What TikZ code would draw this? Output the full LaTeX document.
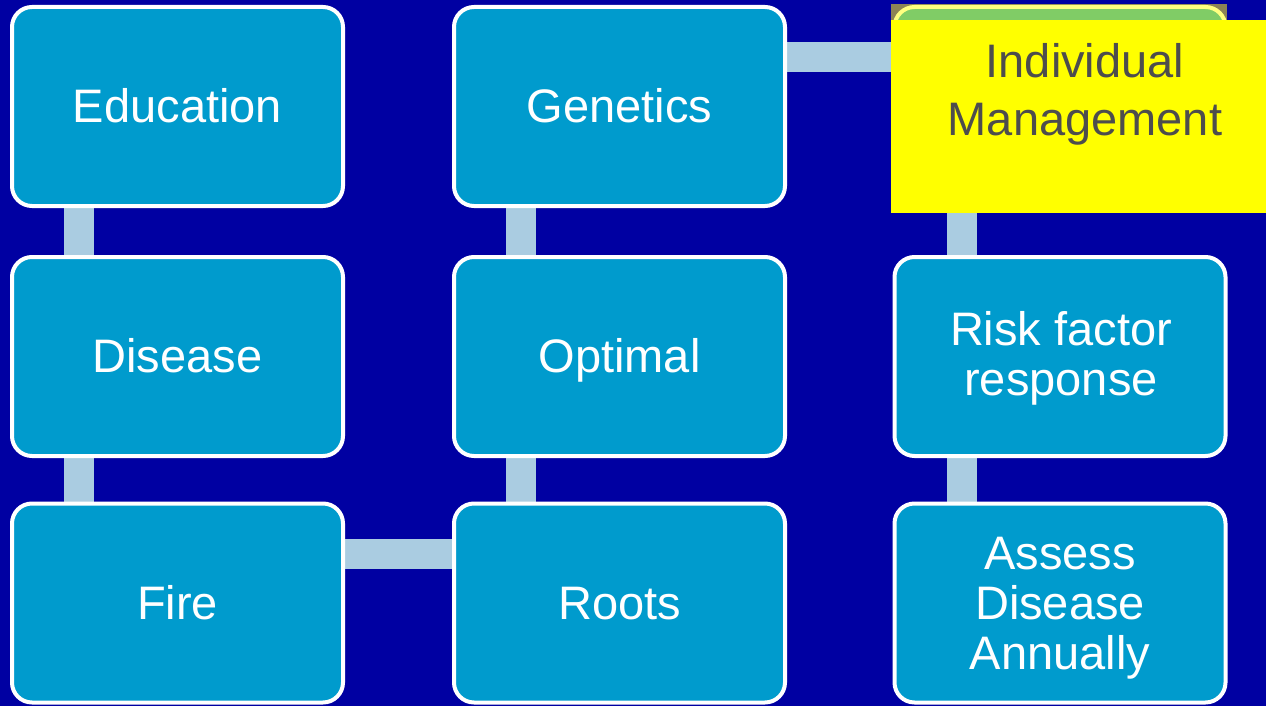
\documentclass[tikz,border=0pt]{standalone}
\usepackage{fontspec}
\setmainfont{Liberation Sans}
\usetikzlibrary{calc}
\definecolor{bgblue}{RGB}{0,0,162}
\definecolor{boxblue}{RGB}{0,155,205}
\definecolor{connblue}{RGB}{170,204,225}
\definecolor{boxgreen}{RGB}{128,204,102}
\definecolor{lightyel}{RGB}{255,255,128}
\definecolor{olivebar}{RGB}{140,132,85}
\definecolor{hlyellow}{RGB}{255,255,0}
\definecolor{darktext}{RGB}{77,77,77}
\pgfdeclarelayer{bgl}
\pgfdeclarelayer{connl}
\pgfsetlayers{bgl,connl,main}
\begin{document}
\begin{tikzpicture}[x=1pt,y=-1pt,
  box/.style={draw=white, line width=4pt, rounded corners=20pt, fill=boxblue,
    minimum width=331pt, minimum height=199pt, inner sep=0pt, text=white,
    font=\fontsize{47}{51}\selectfont, align=center},
  one/.style={text height=42.5pt, text depth=10pt},
  lbl/.style={text=white, inner sep=0pt, font=\fontsize{47}{50}\selectfont, align=center},
  conn/.style={draw=connblue, line width=30pt}]
\useasboundingbox (0,0) rectangle (1266,706);
\begin{pgfonlayer}{bgl}
  \fill[bgblue] (0,0) rectangle (1266,706);
\end{pgfonlayer}

\node[box,one] (edu) at (177.5,106.5) {Education};
\node[box,one] (dis) at (177.5,356.5) {Disease};
\node[box,one] (fire) at (177.5,603) {Fire};
\node[box,one] (gen) at (619.5,106.5) {Genetics};
\node[box,one] (opt) at (619.5,356.5) {Optimal};
\node[box,one] (roots) at (619.5,603) {Roots};

\fill[olivebar] (891,4) rectangle (1227,24);
\node[box, draw=lightyel, fill=boxgreen] (ind) at (1060,106.5) {};
\node[box] (risk) at (1060,356.5) {};
\node[lbl] (risktxt) at (1061,358.6) {Risk factor\\response};
\node[box] (assess) at (1060,603) {};
\node[lbl] (assesstxt) at (1060,608) {Assess\\Disease\\Annually};

\node[fill=hlyellow, minimum width=375pt, minimum height=193pt, inner sep=0pt,
  anchor=north west] (hl) at (891,20) {};
\node[text=darktext, inner sep=0pt, font=\fontsize{47}{58}\selectfont, align=center]
  (indtxt) at (1085,94) {Individual\\Management};

\begin{pgfonlayer}{connl}
  \draw[conn] ($(edu.south west)+(69,0)$) -- ($(dis.north west)+(69,0)$);
  \draw[conn] ($(dis.south west)+(69,0)$) -- ($(fire.north west)+(69,0)$);
  \draw[conn] ($(fire.north east)+(0,52)$) -- ($(roots.north west)+(0,52)$);
  \draw[conn] ($(roots.north west)+(69,0)$) -- ($(opt.south west)+(69,0)$);
  \draw[conn] ($(opt.north west)+(69,0)$) -- ($(gen.south west)+(69,0)$);
  \draw[conn] ($(gen.north east)+(0,52)$) -- ($(ind.north west)+(0,52)$);
  \draw[conn] ($(ind.south west)+(69,0)$) -- ($(risk.north west)+(69,0)$);
  \draw[conn] ($(risk.south west)+(69,0)$) -- ($(assess.north west)+(69,0)$);
\end{pgfonlayer}
\end{tikzpicture}
\end{document}
